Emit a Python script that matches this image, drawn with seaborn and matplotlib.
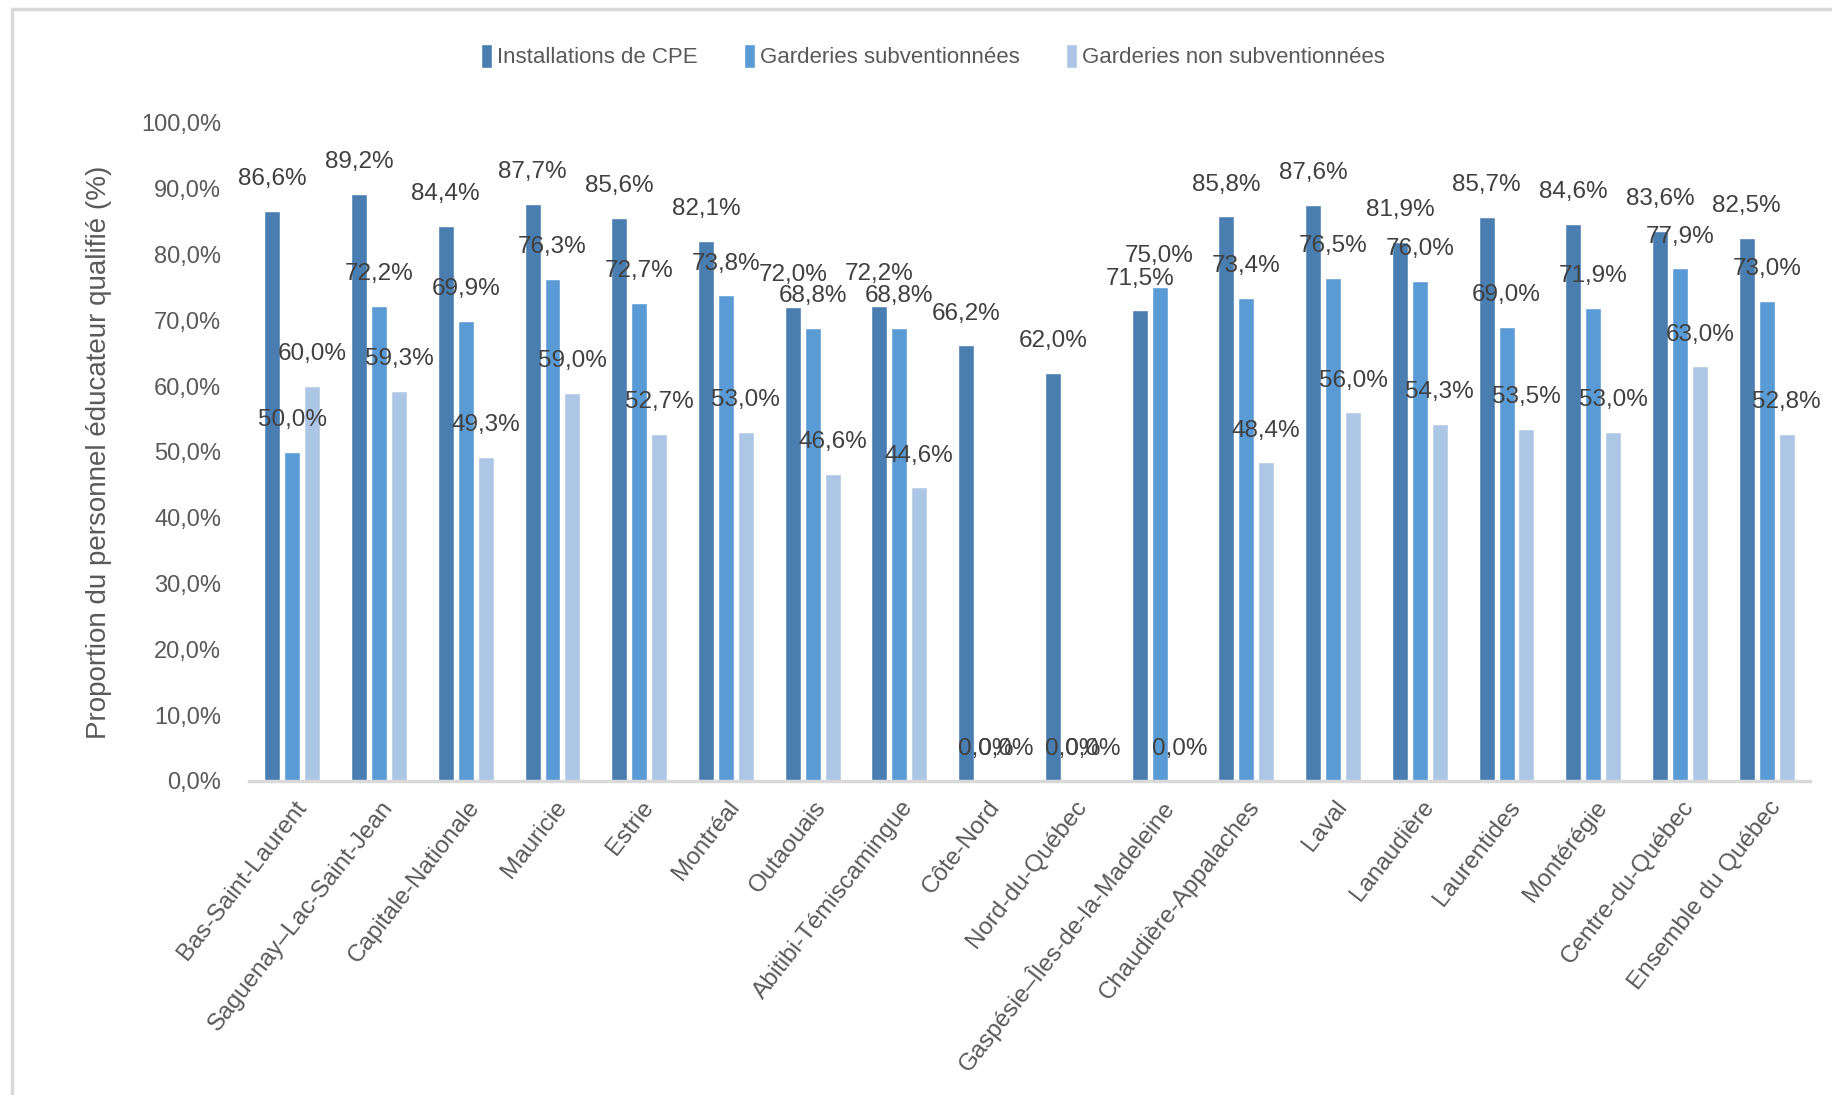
import numpy as np
import pandas as pd
import matplotlib
matplotlib.use('Agg')
from matplotlib import pyplot as plt
from matplotlib import ticker as ticker
from matplotlib import transforms
from matplotlib.lines import Line2D
import seaborn as sns

sns.set_style('white', {'axes.grid': False})
plt.rcParams['font.family'] = ['Liberation Sans', 'DejaVu Sans']

regions = ['Bas-Saint-Laurent', 'Saguenay–Lac-Saint-Jean', 'Capitale-Nationale', 'Mauricie',
           'Estrie', 'Montréal', 'Outaouais', 'Abitibi-Témiscamingue', 'Côte-Nord',
           'Nord-du-Québec', 'Gaspésie–Îles-de-la-Madeleine', 'Chaudière-Appalaches', 'Laval',
           'Lanaudière', 'Laurentides', 'Montérégie', 'Centre-du-Québec', 'Ensemble du Québec']
series = ['Installations de CPE', 'Garderies subventionnées', 'Garderies non subventionnées']
cpe = [86.6, 89.2, 84.4, 87.7, 85.6, 82.1, 72.0, 72.2, 66.2, 62.0, 71.5, 85.8, 87.6, 81.9, 85.7, 84.6, 83.6, 82.5]
subv = [50.0, 72.2, 69.9, 76.3, 72.7, 73.8, 68.8, 68.8, 0.0, 0.0, 75.0, 73.4, 76.5, 76.0, 69.0, 71.9, 77.9, 73.0]
non_subv = [60.0, 59.3, 49.3, 59.0, 52.7, 53.0, 46.6, 44.6, 0.0, 0.0, 0.0, 48.4, 56.0, 54.3, 53.5, 53.0, 63.0, 52.8]
colors = ['#4a7eb1', '#5b9bd5', '#adc6e6']

df = pd.DataFrame({'region': regions, series[0]: cpe, series[1]: subv, series[2]: non_subv})
df = df.melt(id_vars='region', var_name='type', value_name='pct')

fig = plt.figure(figsize=(18.33, 10.95), dpi=100)
ax = fig.add_axes([0.1358, 0.2868, 0.8517, 0.6009])

sns.barplot(x='region', y='pct', hue='type', data=df, palette=colors, saturation=1, width=0.69, gap=0.2,
            order=regions, hue_order=series, errorbar=None, ax=ax)

def fr(v):
    return '{:.1f}'.format(v).replace('.', ',') + '%'

for c in ax.containers:
    ax.bar_label(c, labels=[fr(v) for v in c.datavalues], padding=15, fontsize=17.5, color='#404040')

ax.set_ylim(0, 100)
ax.set_xlim(-0.5, len(regions) - 0.5)
ax.yaxis.set_major_locator(ticker.MultipleLocator(10))
ax.yaxis.set_major_formatter(ticker.FuncFormatter(lambda x, pos: fr(x)))
ax.tick_params(axis='y', labelsize=17, labelcolor='#595959', length=0, pad=20)
ax.tick_params(axis='x', labelsize=17.5, labelcolor='#595959', length=0, pad=16)

for s in ['left', 'right', 'top']:
    ax.spines[s].set_visible(False)
ax.spines['bottom'].set_color('#d9d9d9')
ax.spines['bottom'].set_linewidth(2.5)

offset = transforms.ScaledTranslation(7/72, 0, fig.dpi_scale_trans)
for lb in ax.get_xticklabels():
    lb.set_rotation(52)
    lb.set_ha('right')
    lb.set_va('center')
    lb.set_rotation_mode('anchor')
    lb.set_transform(lb.get_transform() + offset)

ax.set_xlabel('')
ax.set_ylabel('Proportion du personnel éducateur qualifié (%)', fontsize=20, color='#595959')
ax.yaxis.set_label_coords(-0.088, 0.5)

ax.legend(loc='center', bbox_to_anchor=(0.509, 0.949), bbox_transform=fig.transFigure, ncol=3,
          frameon=False, fontsize=16, handlelength=0.5, handleheight=1.3, handletextpad=0.2,
          columnspacing=2.1, labelcolor='#595959')

# light frame around the chart area (only left and top edges are in view)
fig.add_artist(Line2D([12/1833, 12/1833], [0, 1 - 9/1095], color='#d9d9d9', linewidth=2.5))
fig.add_artist(Line2D([12/1833, 1], [1 - 9/1095, 1 - 9/1095], color='#d9d9d9', linewidth=2.5))

plt.savefig('out.png', dpi=100)
print('finished')
